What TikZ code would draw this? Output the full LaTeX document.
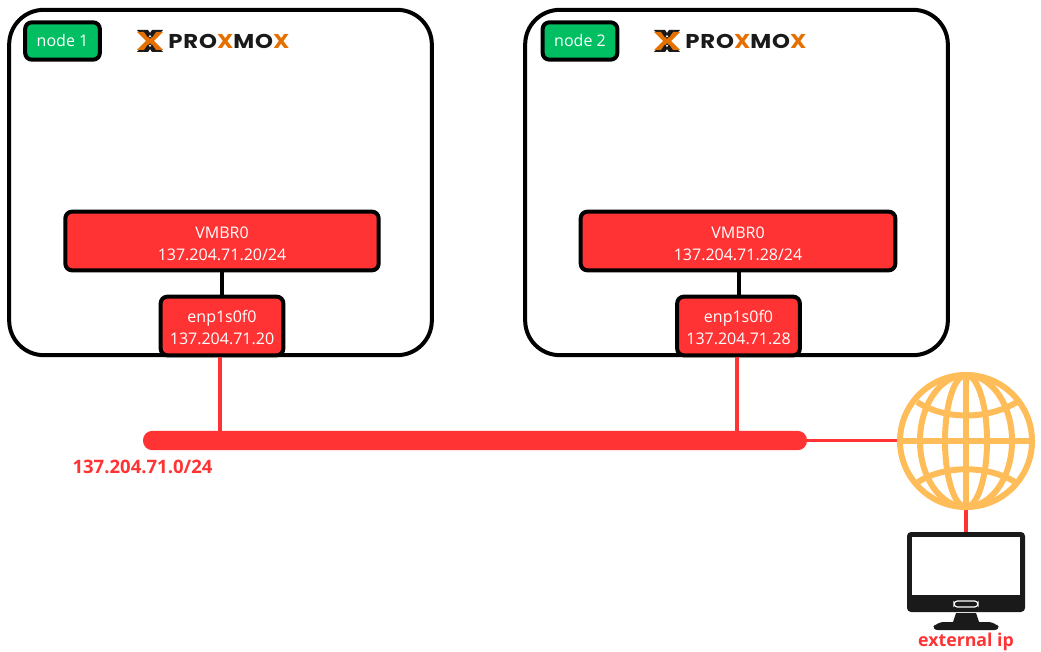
\documentclass[tikz,border=0pt]{standalone}
\usepackage{fontspec, graphicx}
\setmainfont{Open Sans}
\newfontfamily\logofont[LetterSpace=4]{Poppins}
\definecolor{netred}{HTML}{FF3333}
\definecolor{nodegreen}{HTML}{00BF63}
\definecolor{globeorange}{HTML}{FFBD59}
\definecolor{logoorange}{HTML}{E57000}
\definecolor{pcblack}{HTML}{1A1A1A}
\newcommand{\lowerby}[1]{\rule{0pt}{#1}}
\tikzset{
	hostbox/.style = {draw=black, line width=3pt, rounded corners=26pt, minimum width=317pt, minimum height=259pt, fill=white},
	tagbox/.style = {draw=black, line width=3pt, rounded corners=5pt, fill=nodegreen, text=white, minimum width=56pt, minimum height=28pt, font=\fontsize{12}{14}\selectfont, inner sep=0pt},
	redbox/.style = {draw=black, line width=3pt, rounded corners=5pt, fill=netred, text=white, align=center, inner sep=0pt, font=\fontsize{12}{16.5}\selectfont},
	wire/.style = {draw=netred, line width=2.6pt},
	pmxlogo/.pic = {
		\fill[pcblack] (-13,-11) -- (-7,-11) -- (13,11) -- (7,11) -- cycle;
		\fill[pcblack] (13,-11) -- (7,-11) -- (-13,11) -- (-7,11) -- cycle;
		\fill[logoorange] (-13,-9) -- (-6,-9) -- (0,-2) -- (6,-9) -- (13,-9) -- (4,0) -- (13,9) -- (6,9) -- (0,2) -- (-6,9) -- (-13,9) -- (-4,0) -- cycle;
		\fill[pcblack] (-7,-11) -- (-2,-11) -- (0,-8) -- (2,-11) -- (7,-11) -- (2.5,-4) -- (0,-6) -- (-2.5,-4) -- cycle;
		\fill[pcblack] (-7,11) -- (-2,11) -- (0,8) -- (2,11) -- (7,11) -- (2.5,4) -- (0,6) -- (-2.5,4) -- cycle;
		\node[anchor=west, inner sep=0pt, font=\logofont\bfseries\fontsize{15}{16}\selectfont] (logotext) at (18,0) {\scalebox{1.14}[1]{\textcolor{pcblack}{PRO}\textcolor{logoorange}{X}\textcolor{pcblack}{MO}\textcolor{logoorange}{X}}};
	}
}
\begin{document}
\begin{tikzpicture}[x=0.75pt, y=-0.75pt]
	\useasboundingbox (0,0) rectangle (1041,652);

	\node [hostbox] (host1) at (220.5,182.5) {}; \node [hostbox] (host2) at (736.5,182.5) {};
	\node [tagbox] (tag1) at (62.5,41) {node 1}; \node [tagbox] (tag2) at (580,41) {node 2};
	\pic (logo1) at (150,41) {pmxlogo}; \pic (logo2) at (667,41) {pmxlogo};

	\node [redbox, minimum width=235pt, minimum height=44pt] (vmbr1) at (222,241) {\lowerby{13pt}VMBR0\\137.204.71.20/24}; \node [redbox, minimum width=236pt, minimum height=44pt] (vmbr2) at (738,241) {\lowerby{13pt}VMBR0\\137.204.71.28/24};
	\node [redbox, minimum width=92pt, minimum height=44pt] (enp1) at (222,326) {\lowerby{11pt}enp1s0f0\\137.204.71.20}; \node [redbox, minimum width=92pt, minimum height=44pt] (enp2) at (738.5,326) {\lowerby{11pt}enp1s0f0\\137.204.71.28};

	\draw[line width=3pt] (vmbr1) -- (enp1); \draw[line width=3pt] (vmbr2.south -| enp2) -- (enp2);

	\node [fill=netred, rounded corners=7pt, minimum width=498pt, minimum height=14.5pt, inner sep=0pt] (bar) at (475,440.5) {};
	\node [text=netred, font=\bfseries\fontsize{13.9}{15}\selectfont, inner sep=0pt] (subnet) at (142.5,466.5) {137.204.71.0/24};

	\coordinate (tap1) at (220,440); \coordinate (tap2) at (737,440);
	\draw[wire] (tap1 |- enp1.south) -- (tap1); \draw[wire] (tap2 |- enp2.south) -- (tap2);

	\coordinate (globe) at (966,441);
	\node [circle, minimum size=100pt, inner sep=0pt] (globenode) at (globe) {};
	\draw[wire] (bar.east) -- (bar.east -| globenode.west); \draw[wire] (globenode.south) -- (966,533);

	\begin{scope}[draw=globeorange, line width=4.5pt]
		\draw (globe) circle [x radius=66, y radius=-66];
		\draw (globe) ellipse [x radius=46, y radius=-66]; \draw (globe) ellipse [x radius=21, y radius=-66];
		\draw (966,375) -- (966,507); \draw (900,441) -- (1032,441);
		\draw (917,402) .. controls (945,420) and (987,420) .. (1017,402);
		\draw (918,482) .. controls (945,465) and (987,465) .. (1015,482);
	\end{scope}

	\fill[pcblack, rounded corners=3pt] (907,532) rectangle (1025,612);
	\fill[white] (912,537) rectangle (1020,595);
	\draw[white, line width=0.9pt, rounded corners=2.5pt] (954,601) rectangle (978,607);
	\fill[pcblack] (956,613) -- (976,613) -- (979,622) -- (953,622) -- cycle;
	\fill[pcblack, rounded corners=5pt] (931,630) -- (937,622) -- (995,622) -- (1001,630) -- cycle;
	\node [text=netred, font=\bfseries\fontsize{13.3}{15}\selectfont, inner sep=0pt] (extip) at (966,642) {external ip};
\end{tikzpicture}
\end{document}
